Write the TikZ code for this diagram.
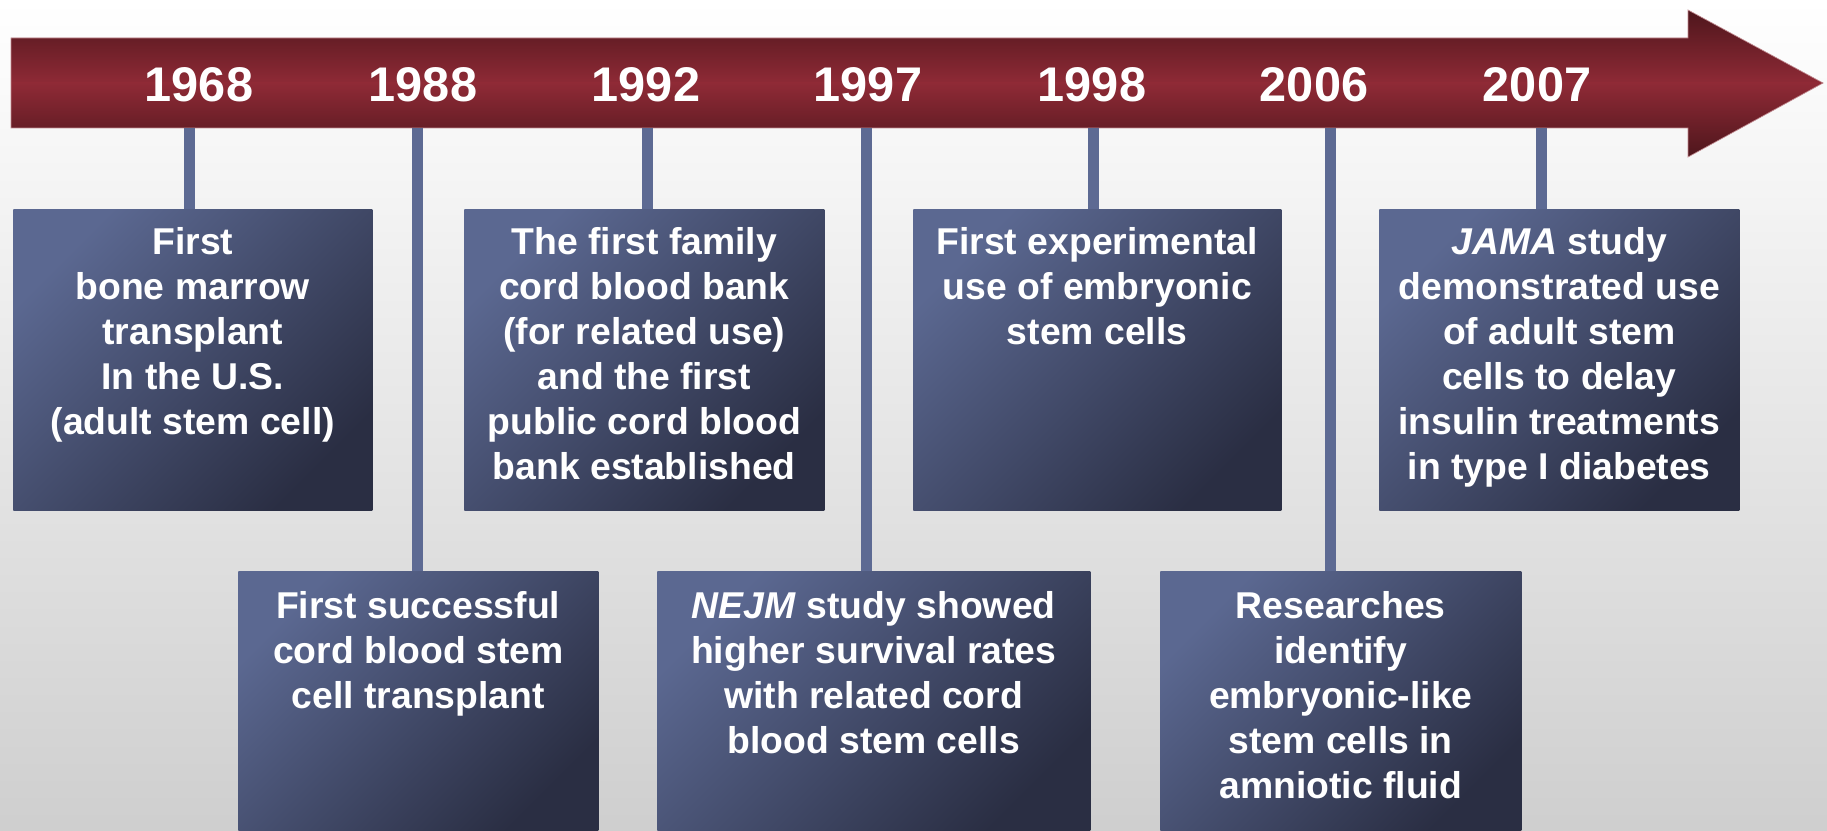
\documentclass[tikz,border=0pt]{standalone}
\usepackage{fontspec}
\setmainfont{Liberation Sans}
\usetikzlibrary{positioning}
\definecolor{barred}{HTML}{8F2A36}
\definecolor{bardark}{HTML}{4E161C}
\definecolor{boxlight}{HTML}{5B6891}
\definecolor{boxdark}{HTML}{2A2E43}
\definecolor{stemblue}{HTML}{5D6A93}
\tikzset{
  year/.style={text=white,font=\fontsize{36.5}{40}\selectfont\bfseries,anchor=base,inner sep=0pt},
  event/.style={anchor=north west,inner sep=0pt,top color=boxlight,bottom color=boxdark,shading angle=45},
  eventtext/.style={text=white,font=\fontsize{28}{33.75}\selectfont\bfseries,align=center,inner sep=0pt},
  stemline/.style={draw=stemblue,line width=8.25pt}
}
\begin{document}
\begin{tikzpicture}[x=.75pt,y=.75pt,line join=miter]
  \useasboundingbox (0,0) rectangle (1827,-831);
  \shade[top color=white,bottom color=gray!38] (0,0) rectangle (1827,-831);
  % the time bar
  \begin{scope}
    \clip (11,-38) -- (1688,-38) -- (1688,-10) -- (1823,-83) -- (1688,-157) -- (1688,-128) -- (11,-128) -- cycle;
    \shade[top color=bardark,bottom color=barred] (0,-10) rectangle (1827,-84);
    \shade[top color=barred,bottom color=bardark] (0,-83) rectangle (1827,-157);
  \end{scope}
  \draw[barred!55,line width=.5pt]
  (11,-38) -- (1688,-38) -- (1688,-10) -- (1823,-83) -- (1688,-157) -- (1688,-128) -- (11,-128) -- cycle;
  \coordinate (t1) at (189,-128);
  \coordinate (t2) at (417,-128);
  \coordinate (t3) at (647,-128);
  \coordinate (t4) at (866,-128);
  \coordinate (t5) at (1093,-128);
  \coordinate (t6) at (1330,-128);
  \coordinate (t7) at (1541,-128);
  \node[year] (y1) at (199,-102) {1968};
  \node[year] (y2) at (423,-102) {1988};
  \node[year] (y3) at (646,-102) {1992};
  \node[year] (y4) at (868,-102) {1997};
  \node[year] (y5) at (1092,-102) {1998};
  \node[year] (y6) at (1314,-102) {2006};
  \node[year] (y7) at (1537,-102) {2007};
  % boxes above
  \node[event,minimum width=269.25pt,minimum height=225.75pt] (b1) at (13,-209) {};
  \node[event,minimum width=270pt,minimum height=225.75pt] (b3) at (464,-209) {};
  \node[event,minimum width=276pt,minimum height=225.75pt] (b5) at (913,-209) {};
  \node[event,minimum width=270pt,minimum height=225.75pt] (b7) at (1379,-209) {};
  % boxes below
  \node[event,minimum width=270pt,minimum height=195pt] (b2) at (238,-571) {};
  \node[event,minimum width=324.75pt,minimum height=195pt] (b4) at (657,-571) {};
  \node[event,minimum width=270.75pt,minimum height=195pt] (b6) at (1160,-571) {};
  \draw[stemline]
  (t1) -- (t1 |- b1.north)
  (t2) -- (t2 |- b2.north)
  (t3) -- (t3 |- b3.north)
  (t4) -- (t4 |- b4.north)
  (t5) -- (t5 |- b5.north)
  (t6) -- (t6 |- b6.north)
  (t7) -- (t7 |- b7.north)
  ;
  \node[eventtext,below=13.5pt of b1.north] (e1) {First\\bone marrow\\transplant\\In the U.S.\\(adult stem cell)};
  \node[eventtext,below=15pt of b2.north] (e2) {First successful\\cord blood stem\\cell transplant};
  \node[eventtext,below=13.5pt of b3.north] (e3) {The first family\\cord blood bank\\(for related use)\\and the first\\public cord blood\\bank established};
  \node[eventtext,below=15pt of b4.north] (e4) {\textit{NEJM} study showed\\higher survival rates\\with related cord\\blood stem cells};
  \node[eventtext,below=13.5pt of b5.north] (e5) {First experimental\\use of embryonic\\stem cells};
  \node[eventtext,below=15pt of b6.north] (e6) {Researches\\identify\\embryonic-like\\stem cells in\\amniotic fluid};
  \node[eventtext,below=13.5pt of b7.north] (e7) {\textit{JAMA} study\\demonstrated use\\of adult stem\\cells to delay\\insulin treatments\\in type I diabetes};
\end{tikzpicture}
\end{document}
